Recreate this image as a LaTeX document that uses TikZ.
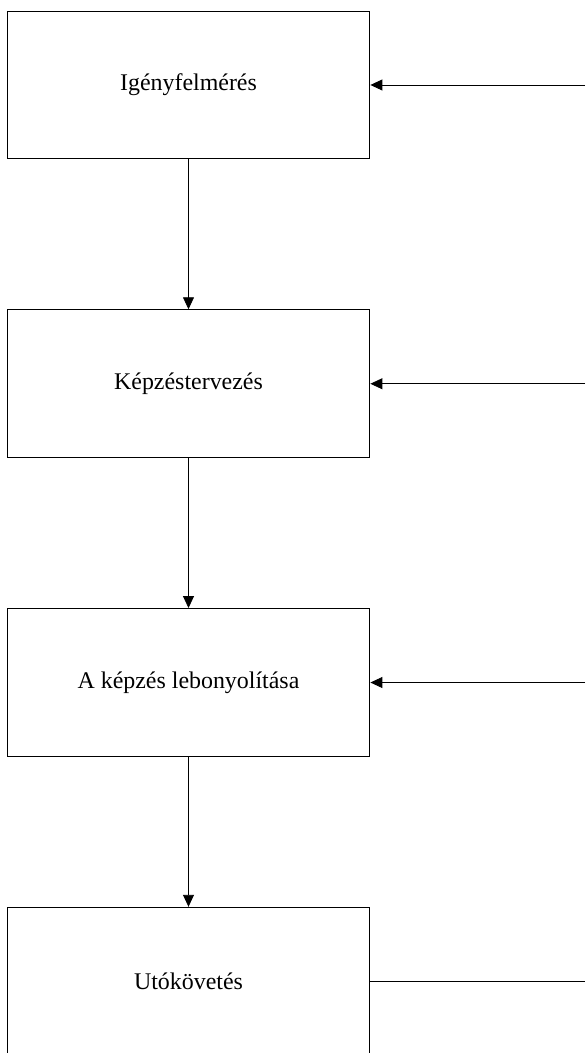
\documentclass[tikz,border=0pt]{standalone}
\usepackage{fontspec}
\setmainfont{Liberation Serif}
\usetikzlibrary{arrows.meta, positioning}

\begin{document}
\begin{tikzpicture}[thin, >={Triangle[length=6pt,width=5.5pt]},
    lepes/.style={draw, line width=0.5pt, minimum width=6.4cm, minimum height=2.61cm, font=\fontsize{12}{14}\selectfont}]
        \useasboundingbox (-3.325,1.499) rectangle (6.994,-17.075);
        % Lépések (bal oldal)
        \node[lepes] (igeny) at (0, 0) {Igényfelmérés};
        \node[lepes] (terv) at (0, -5.27) {Képzéstervezés};
        \node[lepes] (lebony) at (0, -10.54) {A képzés lebonyolítása};
        \node[lepes] (utok) at (0, -15.81) {Utókövetés};
        \draw[->] (igeny) -- (terv);
        \draw[->] (terv) -- (lebony);
        \draw[->] (lebony) -- (utok);

        % Visszacsatolás (jobb oldal)
        \coordinate (be1) at (6.994, 0);
        \coordinate (be2) at (6.994, -5.27);
        \coordinate (be3) at (6.994, -10.54);
        \coordinate (ki4) at (6.994, -15.81);
        \draw[->] (be1) -- (igeny.east);
        \draw[->] (be2) -- (terv.east);
        \draw[->] (be3) -- (lebony.east);
        \draw (utok.east) -- (ki4);
    \end{tikzpicture}
\end{document}
